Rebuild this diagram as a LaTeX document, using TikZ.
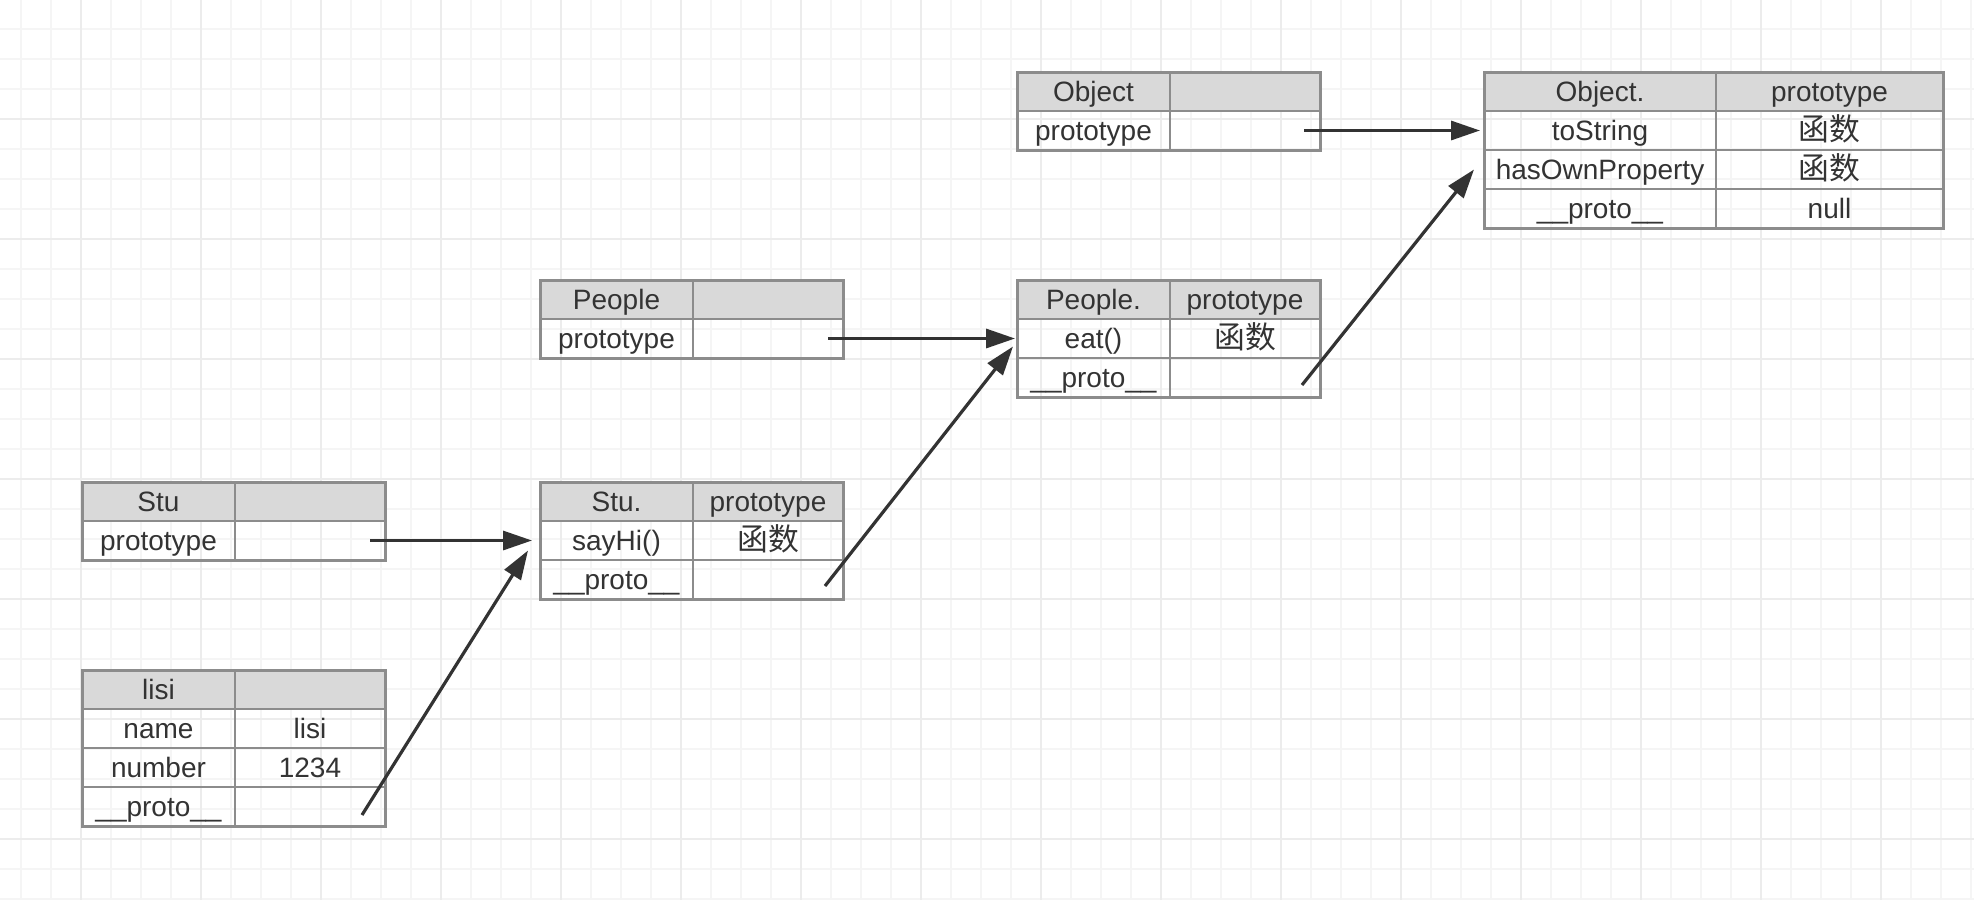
\documentclass[tikz,border=0pt]{standalone}
\usepackage{fontspec}
\setmainfont{Liberation Sans}
\newfontfamily\cjk[Scale=1.1]{Noto Sans CJK SC}
\usetikzlibrary{positioning,arrows.meta}

\definecolor{gridminor}{RGB}{245,245,245}
\definecolor{gridmajor}{RGB}{236,236,236}
\definecolor{boxline}{RGB}{140,140,140}
\definecolor{headfill}{RGB}{217,217,217}
\definecolor{inkgray}{RGB}{51,51,51}

\tikzset{
  cell/.style={draw=boxline, line width=0.85pt, inner sep=0pt, outer sep=0pt,
    minimum height=19.5pt, text height=12pt, text depth=2pt, text=inkgray,
    font=\fontsize{14}{16}\selectfont},
  head/.style={cell, fill=headfill},
  keycol/.style={minimum width=76.5pt},
  valcol/.style={minimum width=75pt},
  frame/.style={draw=boxline, line width=1.5pt},
  link/.style={draw=inkgray, line width=1.6pt, -{Triangle[length=14.5pt,width=9.5pt]}}
}

\begin{document}
\begin{tikzpicture}[x=0.5pt, y=-0.5pt]
    \useasboundingbox (0,0) rectangle (1974,900);
    \fill[white] (0,0) rectangle (1974,900);

    % grid
    \foreach \x in {21,51,...,1971} \draw[gridminor, line width=1pt] (\x,0) -- (\x,900);
    \foreach \y in {29,59,...,899} \draw[gridminor, line width=1pt] (0,\y) -- (1974,\y);
    \foreach \x in {81,201,...,1941} \draw[gridmajor, line width=1pt] (\x,0) -- (\x,900);
    \foreach \y in {119,239,...,839} \draw[gridmajor, line width=1pt] (0,\y) -- (1974,\y);

    % Object
    \node[head, keycol, anchor=north west] (obj-h) at (1017,72) {Object};
    \node[head, valcol, right=0pt of obj-h] (obj-hv) {};
    \node[cell, keycol, below=0pt of obj-h] (obj-p) {prototype};
    \node[cell, valcol, right=0pt of obj-p] (obj-pv) {};
    \draw[frame] (obj-h.north west) rectangle (obj-pv.south east);

    % Object.prototype
    \node[head, minimum width=116pt, anchor=north west] (objD-h) at (1484,72) {Object.};
    \node[head, minimum width=113.5pt, right=0pt of objD-h] (objD-hv) {prototype};
    \node[cell, minimum width=116pt, below=0pt of objD-h] (objD-1) {toString};
    \node[cell, minimum width=113.5pt, right=0pt of objD-1] (objD-1v) {\cjk 函数};
    \node[cell, minimum width=116pt, below=0pt of objD-1] (objD-2) {hasOwnProperty};
    \node[cell, minimum width=113.5pt, right=0pt of objD-2] (objD-2v) {\cjk 函数};
    \node[cell, minimum width=116pt, below=0pt of objD-2] (objD-3) {\_\_proto\_\_};
    \node[cell, minimum width=113.5pt, right=0pt of objD-3] (objD-3v) {null};
    \draw[frame] (objD-h.north west) rectangle (objD-3v.south east);

    % People
    \node[head, keycol, anchor=north west] (ppl-h) at (540,280) {People};
    \node[head, valcol, right=0pt of ppl-h] (ppl-hv) {};
    \node[cell, keycol, below=0pt of ppl-h] (ppl-p) {prototype};
    \node[cell, valcol, right=0pt of ppl-p] (ppl-pv) {};
    \draw[frame] (ppl-h.north west) rectangle (ppl-pv.south east);

    % People.prototype
    \node[head, keycol, anchor=north west] (pplD-h) at (1017,280) {People.};
    \node[head, valcol, right=0pt of pplD-h] (pplD-hv) {prototype};
    \node[cell, keycol, below=0pt of pplD-h] (pplD-1) {eat()};
    \node[cell, valcol, right=0pt of pplD-1] (pplD-1v) {\cjk 函数};
    \node[cell, keycol, below=0pt of pplD-1] (pplD-2) {\_\_proto\_\_};
    \node[cell, valcol, right=0pt of pplD-2] (pplD-2v) {};
    \draw[frame] (pplD-h.north west) rectangle (pplD-2v.south east);

    % Stu
    \node[head, keycol, anchor=north west] (stu-h) at (82,482) {Stu};
    \node[head, valcol, right=0pt of stu-h] (stu-hv) {};
    \node[cell, keycol, below=0pt of stu-h] (stu-p) {prototype};
    \node[cell, valcol, right=0pt of stu-p] (stu-pv) {};
    \draw[frame] (stu-h.north west) rectangle (stu-pv.south east);

    % Stu.prototype
    \node[head, keycol, anchor=north west] (stuD-h) at (540,482) {Stu.};
    \node[head, valcol, right=0pt of stuD-h] (stuD-hv) {prototype};
    \node[cell, keycol, below=0pt of stuD-h] (stuD-1) {sayHi()};
    \node[cell, valcol, right=0pt of stuD-1] (stuD-1v) {\cjk 函数};
    \node[cell, keycol, below=0pt of stuD-1] (stuD-2) {\_\_proto\_\_};
    \node[cell, valcol, right=0pt of stuD-2] (stuD-2v) {};
    \draw[frame] (stuD-h.north west) rectangle (stuD-2v.south east);

    % lisi
    \node[head, keycol, anchor=north west] (lisi-h) at (82,670) {lisi};
    \node[head, valcol, right=0pt of lisi-h] (lisi-hv) {};
    \node[cell, keycol, below=0pt of lisi-h] (lisi-1) {name};
    \node[cell, valcol, right=0pt of lisi-1] (lisi-1v) {lisi};
    \node[cell, keycol, below=0pt of lisi-1] (lisi-2) {number};
    \node[cell, valcol, right=0pt of lisi-2] (lisi-2v) {1234};
    \node[cell, keycol, below=0pt of lisi-2] (lisi-3) {\_\_proto\_\_};
    \node[cell, valcol, right=0pt of lisi-3] (lisi-3v) {};
    \draw[frame] (lisi-h.north west) rectangle (lisi-3v.south east);

    % links
    \draw[link] ([xshift=-7.5pt]stu-pv.east) -- ([xshift=-4pt]stuD-1.west);
    \draw[link] ([xshift=-11.5pt,yshift=5.5pt]lisi-3v.south east) -- ([xshift=-6pt,yshift=-5pt]stuD-1.west);
    \draw[link] ([xshift=-7.5pt]ppl-pv.east) -- ([xshift=-1pt]pplD-1.west);
    \draw[link] ([xshift=-9pt,yshift=6.5pt]stuD-2v.south east) -- ([xshift=-2pt,yshift=-4pt]pplD-1.west);
    \draw[link] ([xshift=-8pt]obj-pv.east) -- ([xshift=-2pt]objD-1.west);
    \draw[link] ([xshift=-9pt,yshift=6pt]pplD-2v.south east) -- ([xshift=-5pt]objD-2.west);

\end{tikzpicture}
\end{document}
